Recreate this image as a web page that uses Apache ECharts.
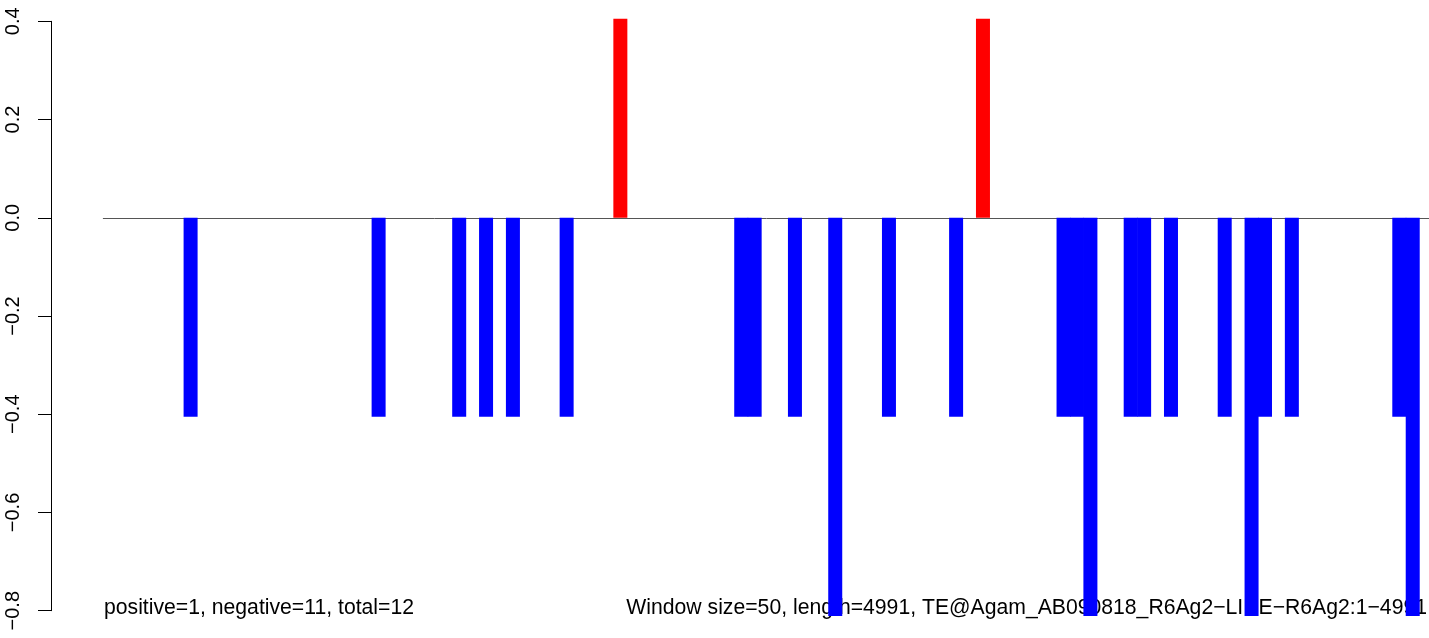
<!DOCTYPE html>
<html>
<head>
<meta charset="utf-8">
<script src="https://cdn.jsdelivr.net/npm/echarts@6/dist/echarts.min.js"></script>
<style>
html,body{margin:0;padding:0;background:#fff;}
#chart{width:1429px;height:638px;}
</style>
</head>
<body>
<div id="chart"></div>
<script>
// Window index (1..100), window size 50 over length 4991
var windows = [];
for (var i = 1; i <= 100; i++) windows.push(String(i));

// Score per window (0 = no bar)
var positiveWindows = [38, 65];                  // 0-based indices with +0.405
var negativeWindows = [6, 20, 26, 28, 30, 34, 47, 48, 51, 58, 63, 71, 72, 76, 77, 79, 83, 86, 88, 96]; // -0.405
var deepWindows = [54, 73, 85, 97];              // -0.811
var posValue = 0.405, negValue = -0.405, deepValue = -0.811;

var posScores = [], negScores = [];
for (var k = 0; k < windows.length; k++) { posScores.push(null); negScores.push(null); }
positiveWindows.forEach(function (i) { posScores[i] = posValue; });
negativeWindows.forEach(function (i) { negScores[i] = negValue; });
deepWindows.forEach(function (i) { negScores[i] = deepValue; });

var yTicks = [-0.8, -0.6, -0.4, -0.2, 0.0, 0.2, 0.4];
var leftText = 'positive=1, negative=11, total=12';
var rightText = 'Window size=50, length=4991, TE@Agam_AB090818_R6Ag2\u2212LINE\u2212R6Ag2:1\u22124991';

var FONT = "'Liberation Sans', Arial, Helvetica, sans-serif";

var chart = echarts.init(document.getElementById('chart'), null, {renderer: 'canvas'});
chart.setOption({
  animation: false,
  backgroundColor: '#ffffff',
  grid: {left: 103.3, top: 21.3, width: 1343, height: 589.4, containLabel: false, outerBoundsMode: 'none'},
  xAxis: {
    type: 'category',
    data: windows,
    boundaryGap: true,
    axisLine: {show: true, onZero: true, lineStyle: {color: '#555555', width: 1}},
    axisTick: {show: false},
    axisLabel: {show: false},
    splitLine: {show: false}
  },
  yAxis: {
    type: 'value',
    min: yTicks[0],
    max: yTicks[yTicks.length - 1],
    interval: 0.2,
    offset: 52.3,
    axisLine: {show: true, lineStyle: {color: '#000', width: 1}},
    axisTick: {show: true, length: 13, inside: false, lineStyle: {color: '#000', width: 1}},
    axisLabel: {
      rotate: 90,
      margin: 28,
      color: '#000',
      fontSize: 20,
      fontFamily: FONT,
      formatter: function (v) { return v.toFixed(1).replace('-', '\u2212'); }
    },
    splitLine: {show: false}
  },
  series: [{
    type: 'bar',
    name: 'positive',
    data: posScores,
    barWidth: 14,
    barGap: '-100%',
    clip: false,
    itemStyle: {color: '#ff0000'}
  }, {
    type: 'bar',
    name: 'negative',
    data: negScores,
    barWidth: 14,
    barGap: '-100%',
    clip: false,
    itemStyle: {color: '#0000ff'}
  }],
  graphic: [
    {type: 'text', left: 104, top: 598, silent: true,
     style: {text: leftText, fill: '#000', font: '21.2px ' + FONT}},
    {type: 'text', right: 2, top: 598, silent: true,
     style: {text: rightText, fill: '#000', font: '21.2px ' + FONT}}
  ]
});
</script>
</body>
</html>
